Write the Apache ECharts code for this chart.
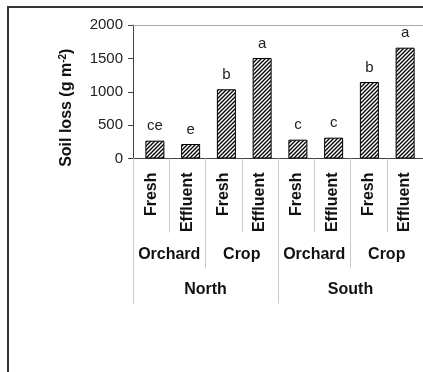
<!DOCTYPE html>
<html><head><meta charset="utf-8">
<script src="https://cdn.jsdelivr.net/npm/echarts@6/dist/echarts.min.js"></script>
<style>html,body{margin:0;padding:0;background:#fff}#c{width:423px;height:372px}</style>
</head><body><div id="c"></div>
<script>
const categories = ['Fresh','Effluent','Fresh','Effluent','Fresh','Effluent','Fresh','Effluent'];
const landUse = ['Orchard','Crop','Orchard','Crop'];
const regions = ['North','South'];
const soilLoss = [267,217,1037,1506,282,312,1146,1660];
const letters = ['ce','e','b','a','c','c','b','a'];
const yMin = 0, yMax = 2000, yStep = 500;

const pc = document.createElement('canvas');
pc.width = 4; pc.height = 4;
const g = pc.getContext('2d');
g.fillStyle = '#fff'; g.fillRect(0,0,4,4);
g.strokeStyle = '#000'; g.lineWidth = 1.3;
g.beginPath();
g.moveTo(-1,5); g.lineTo(5,-1);
g.moveTo(-1,1); g.lineTo(1,-1);
g.moveTo(3,5); g.lineTo(5,3);
g.stroke();

const FONT = 'Liberation Sans, Arial, sans-serif';
const chart = echarts.init(document.getElementById('c'), null, {renderer:'canvas'});
const gridW = 8*36.8;
chart.setOption({
  animation:false,
  textStyle:{fontFamily:FONT},
  graphic:[{type:'rect', shape:{x:8,y:7,width:600,height:600}, style:{fill:'none', stroke:'#333', lineWidth:2}, silent:true}],
  grid:[
    {left:133, top:25, width:gridW, height:133.5},
    {left:137, top:25, width:gridW, height:133.5}
  ],
  xAxis:[
    {gridIndex:0, type:'category', position:'bottom', data:categories,
     axisLine:{show:true, lineStyle:{color:'#444', width:1}},
     axisTick:{show:true, interval:0, length:74, lineStyle:{color:'#c8c8c8'}},
     axisLabel:{interval:0, rotate:90, margin:14, fontSize:16, fontWeight:'bold', color:'#111', fontFamily:FONT}},
    {gridIndex:0, type:'category', position:'bottom', data:landUse,
     axisLine:{show:false},
     axisTick:{show:true, interval:0, length:110, lineStyle:{color:'#c8c8c8'}},
     axisLabel:{interval:0, margin:88, fontSize:16, fontWeight:'bold', color:'#111', fontFamily:FONT}},
    {gridIndex:0, type:'category', position:'bottom', data:regions,
     axisLine:{show:false},
     axisTick:{show:true, interval:0, length:145, lineStyle:{color:'#c8c8c8'}},
     axisLabel:{interval:0, margin:123, fontSize:16, fontWeight:'bold', color:'#111', fontFamily:FONT}},
    {gridIndex:0, type:'category', position:'top', data:[''],
     axisLine:{show:true, lineStyle:{color:'#aaa', width:1}},
     axisTick:{show:false}, axisLabel:{show:false}},
    {gridIndex:1, type:'category', data:categories, show:false}
  ],
  yAxis:[
    {gridIndex:0, type:'value', min:yMin, max:yMax, interval:yStep,
     axisLine:{show:true, lineStyle:{color:'#444', width:1}},
     axisTick:{show:true, length:5, lineStyle:{color:'#444'}},
     axisLabel:{fontSize:15, color:'#222', margin:10, fontFamily:FONT, formatter:v=>String(v)},
     splitLine:{show:false},
     name:'{a|Soil loss (g m}{s|-2}{a|)}', nameLocation:'middle', nameGap:57, nameRotate:90,
     nameTextStyle:{padding:[0,32,0,0], rich:{
       a:{fontSize:16, fontWeight:'bold', color:'#111', fontFamily:FONT},
       s:{fontSize:10, fontWeight:'bold', color:'#111', fontFamily:FONT, padding:[0,0,8,0]}
     }}},
    {gridIndex:1, type:'value', min:yMin, max:yMax, interval:yStep, show:false}
  ],
  series:[{
    type:'bar', xAxisIndex:4, yAxisIndex:1, data:soilLoss, barWidth:19,
    itemStyle:{color:{image:pc, repeat:'repeat'}, borderColor:'#000', borderWidth:1},
    label:{show:true, position:'top', distance:7, fontSize:15, color:'#222', fontFamily:FONT,
      formatter:p=>letters[p.dataIndex]}
  }]
});
</script></body></html>
